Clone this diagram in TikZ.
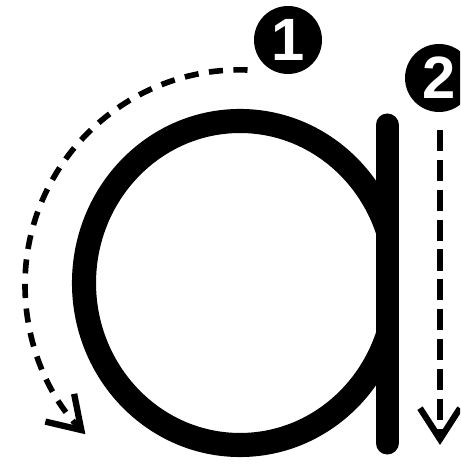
\documentclass[tikz,border=0pt]{standalone}
\usepackage{fontspec}
\newfontfamily\badgefont{Liberation Sans}
\usetikzlibrary{arrows.meta}

\begin{document}
\begin{tikzpicture}[x=0.02cm, y=0.02cm,
        badge/.style={circle, fill=black, text=white, minimum size=1.36cm, inner sep=0pt,
            font=\badgefont\fontsize{34}{34}\selectfont\bfseries},
        guide/.style={line width=3.2pt, -{Straight Barb[length=6.2mm, width=8mm, line width=3.6pt]}}]
            \useasboundingbox (0,0) rectangle (460,465);
            \clip (0,0) rectangle (460,465);

            % --- Letter a: bowl ---
            \begin{scope}
                \clip (0,0) rectangle (387,465);
                \draw[line width=13.7pt] (240,182) ellipse[x radius=156, y radius=162];
            \end{scope}

            % Stem
            \coordinate (stemtop) at (387,340);
            \coordinate (stembot) at (387,22);
            \draw[line width=13.1pt, line cap=round] (stemtop) -- (stembot);

            % --- Step badges ---
            \node[badge] (one) at (288,425) {1};
            \node[badge] (two) at (439,387) {2};

            % Stroke 1: round the bowl
            \coordinate (arcstart) at (247.5,395);
            \draw[guide, dash pattern=on 8pt off 6pt] (arcstart) arc[start angle=88, end angle=224, radius=215];

            % Stroke 2: down the stem
            \coordinate (downstart) at (440,335);
            \coordinate (downend) at (440,20);
            \draw[guide, dash pattern=on 12pt off 5pt] (downstart) -- (downend);
        \end{tikzpicture}
\end{document}
